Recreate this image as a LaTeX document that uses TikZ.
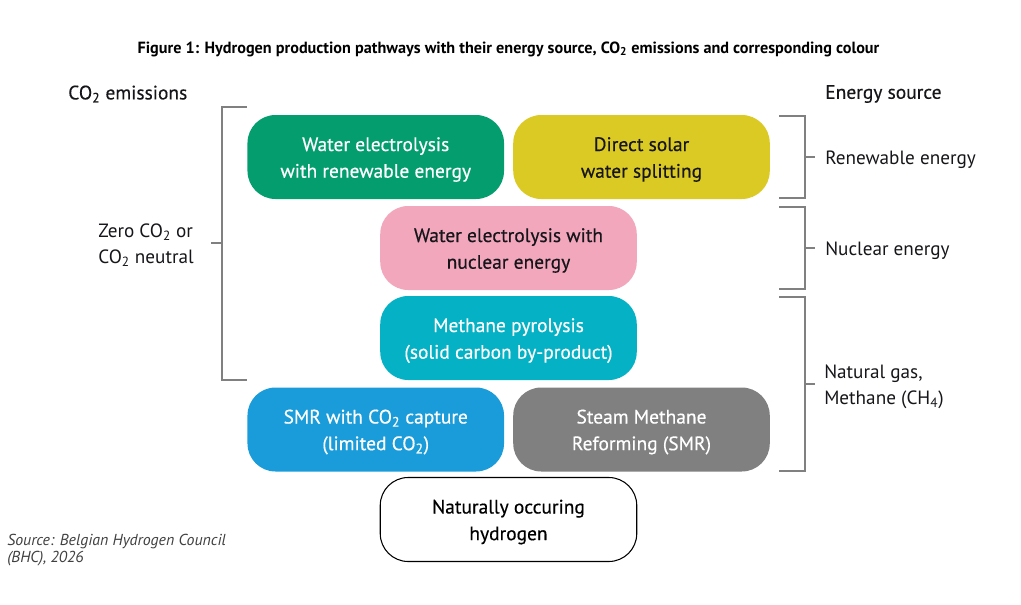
\documentclass[tikz,border=0pt]{standalone}
\usepackage{fontspec}
\setmainfont{PT Sans}
\newfontfamily\mediumfont[FakeBold=.4]{PT Sans}
\definecolor{pathgreen}{HTML}{049E6E}
\definecolor{pathyellow}{HTML}{DBC924}
\definecolor{pathpink}{HTML}{F2A7BC}
\definecolor{pathteal}{HTML}{05B2C5}
\definecolor{pathblue}{HTML}{199CD9}
\definecolor{pathgrey}{HTML}{808080}
\definecolor{inkblack}{HTML}{16161A}
\newcommand{\cotwo}{CO\textsubscript{2}}
\tikzset{
  pathway/.style={rounded corners=21pt,minimum width=192.4pt,minimum height=63pt,align=center,
    inner sep=0pt,font=\fontsize{14.6}{20}\selectfont\mediumfont,
    text height=35pt,text depth=4pt},
  label/.style={anchor=west,align=left,inner sep=0pt,text=inkblack,font=\fontsize{14.4}{19.5}\selectfont},
  header/.style={label,font=\fontsize{14.6}{16}\selectfont\mediumfont},
  bracket/.style={draw=pathgrey,line width=1.6pt}
}
\begin{document}
\begin{tikzpicture}[x=.75pt,y=-.75pt]
\useasboundingbox (0,0) rectangle (1021,604);
\node[font=\fontsize{12.15}{14}\selectfont\bfseries,text=black] (title) at (508.5,49) {Figure 1: Hydrogen production pathways with their energy source, \cotwo{} emissions and corresponding colour};
\node[header] (emissions) at (68,94) {\cotwo{} emissions};
\node[header] (source) at (825,94) {Energy source};
% pathways
\node[pathway,fill=pathgreen,text=white] (wind) at (375.75,157) {Water electrolysis\\with renewable energy};
\node[pathway,fill=pathyellow,text=inkblack] (solar) at (641.5,157) {Direct solar\\water splitting};
\node[pathway,fill=pathpink,text=inkblack] (nuclear) at (508.5,248) {Water electrolysis with\\nuclear energy};
\node[pathway,fill=pathteal,text=white] (pyrolysis) at (508.5,338) {Methane pyrolysis\\(solid carbon by-product)};
\node[pathway,fill=pathblue,text=white] (capture) at (375.75,429.5) {SMR with \cotwo{} capture\\(limited \cotwo{})};
\node[pathway,fill=pathgrey,text=white] (reforming) at (641.5,429.5) {Steam Methane\\Reforming (SMR)};
\node[pathway,draw=black,line width=.8pt,fill=white,text=black] (natural) at (508.5,519.5) {Naturally occuring\\hydrogen};
% labels
\node[label] (zero) at (98,245.5) {Zero \cotwo{} or\\\cotwo{} neutral};
\node[label] (renewable) at (825,160) {Renewable energy};
\node[label] (atomic) at (825,251) {Nuclear energy};
\node[label] (gas) at (824,387) {Natural gas,\\Methane (CH\textsubscript{4})};
\node[label,font=\fontsize{11.9}{13}\selectfont\itshape,text=black!75] (credit) at (7,550) {Source: Belgian Hydrogen Council\\(BHC), 2026};
% brackets
\coordinate (lefttick) at (211,243);
\coordinate (leftmid) at (222,243);
\draw[bracket] (247,107)-|(leftmid)|-(247,380);
\draw[bracket] (lefttick)--(leftmid);
\coordinate (rtick) at (805,157);
\coordinate (ntick) at (805,248);
\coordinate (gtick) at (805,384);
\draw[bracket] (779,116)-|(rtick)|-(779,198);
\draw[bracket] (rtick)--(815,157);
\draw[bracket] (779,207)-|(ntick)|-(779,289);
\draw[bracket] (ntick)--(815,248);
\draw[bracket] (779,297)-|(gtick)|-(779,471);
\draw[bracket] (gtick)--(815,384);
\end{tikzpicture}
\end{document}
